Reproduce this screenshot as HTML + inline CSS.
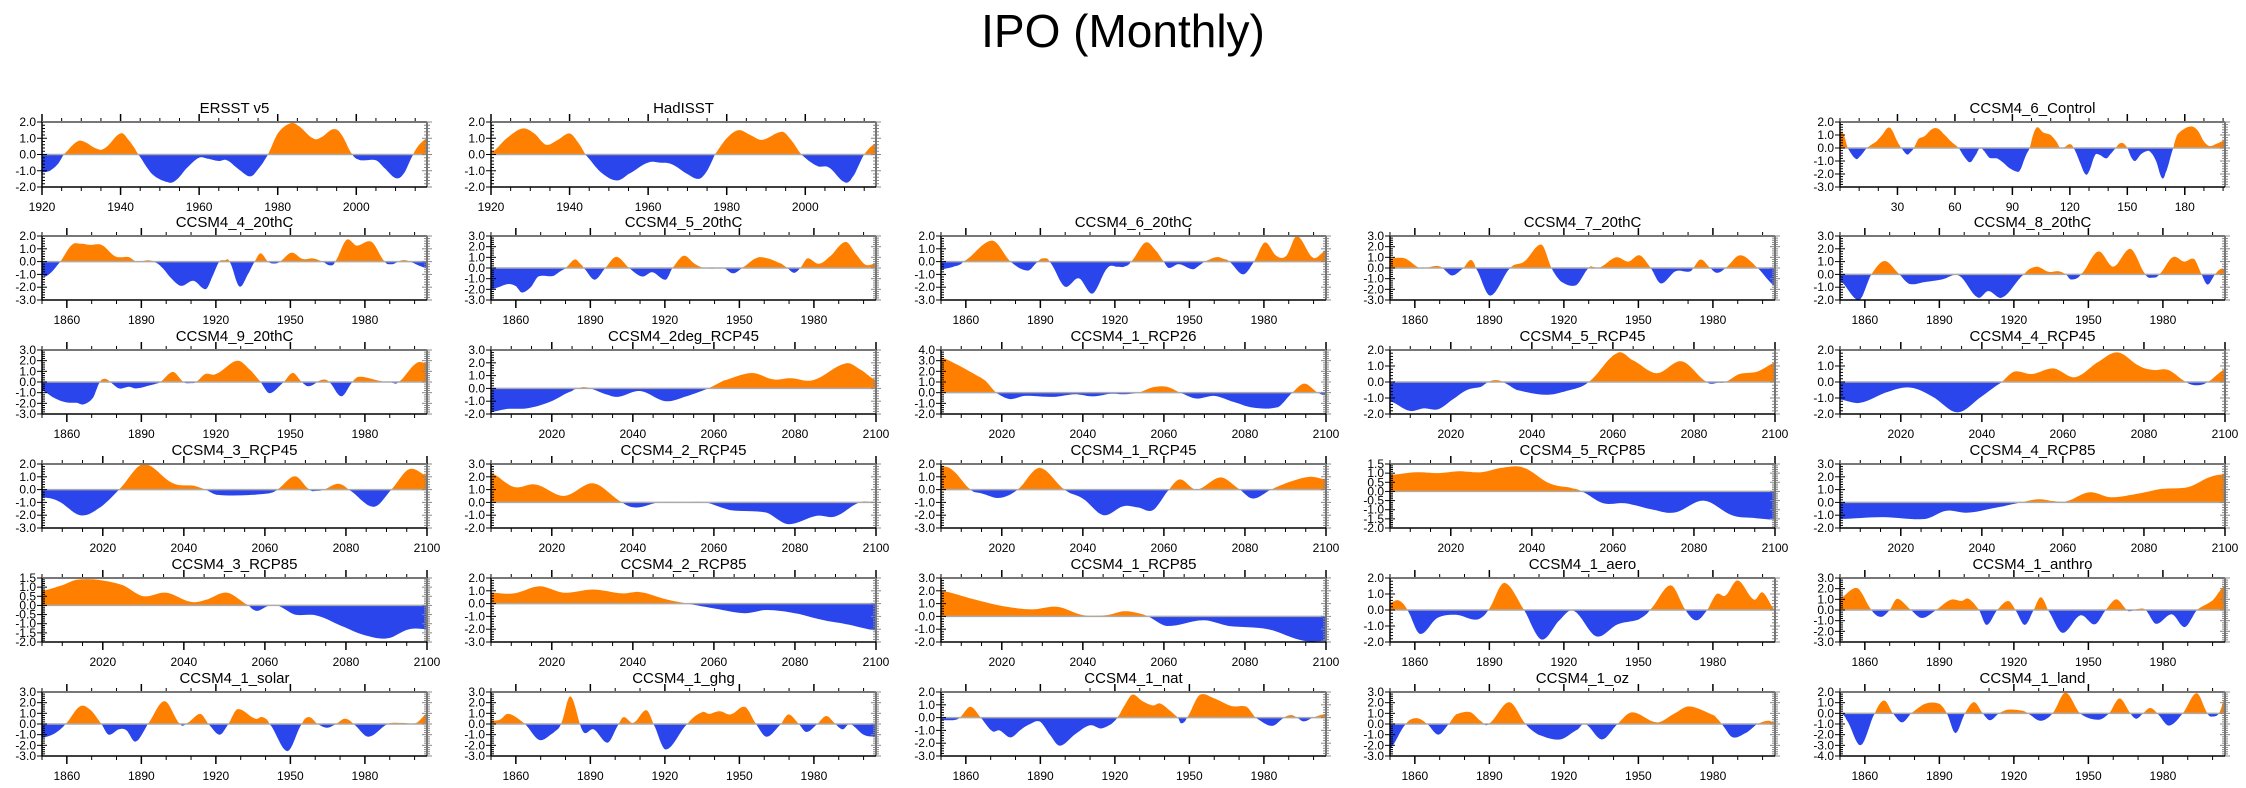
<!DOCTYPE html>
<html><head><meta charset="utf-8"><title>IPO (Monthly)</title>
<style>
html,body{margin:0;padding:0;background:#fff;}
svg{display:block;font-family:"Liberation Sans",Arial,sans-serif;}
</style></head>
<body>
<svg id="chart" width="2246" height="788" viewBox="0 0 2246 788" xmlns="http://www.w3.org/2000/svg">
<text x="1123" y="47" text-anchor="middle" font-size="46" fill="#000">IPO (Monthly)</text>
</svg>
<script>
// ---- data (year/index, IPO value) ----
const d_ersst=[[1920,-1.1],[1922,-1.0],[1924,-0.6],[1925.5,0],[1929,0.8],[1931,0.75],[1934,0.35],[1936,0.4],[1940,1.3],[1942,0.9],[1944.5,0],[1948,-1.2],[1952,-1.7],[1954,-1.6],[1957,-0.8],[1960,-0.2],[1962,-0.25],[1965,-0.4],[1967,-0.35],[1970,-0.9],[1973,-1.35],[1975,-0.9],[1977.5,0],[1980,1.3],[1983,1.9],[1985,1.8],[1989,1.0],[1991,1.05],[1994,1.55],[1996,1.3],[1999,0],[2001,-0.35],[2005,-0.35],[2007,-0.8],[2010,-1.45],[2012,-1.2],[2014.5,0],[2016,0.6],[2018,1.0]];
const d_had=[[1920,0.1],[1924,1.0],[1928,1.6],[1931,1.3],[1934,0.6],[1937,0.9],[1940,1.3],[1942,0.8],[1944,0],[1948,-1.1],[1952,-1.6],[1955,-1.2],[1960,-0.5],[1963,-0.5],[1966,-0.6],[1970,-1.2],[1973,-1.5],[1975,-1.0],[1977,0],[1980,1.0],[1983,1.5],[1986,1.2],[1989,0.9],[1994,1.4],[1996,1.0],[1999,0],[2003,-0.7],[2006,-0.8],[2010,-1.7],[2012,-1.4],[2015,0],[2018,0.7]];
const d_ctrl=[[0,1.25],[2,1.0],[4,0],[8,-0.8],[10,-0.7],[14,0],[19,0.5],[22,1.0],[25,1.55],[27,1.4],[30,0.5],[32,0],[35,-0.5],[37,-0.3],[38.5,0],[41,0.7],[44,0.9],[48,1.45],[51,1.5],[54,1.1],[58,0.5],[62,0],[65,-0.7],[68,-1.1],[71,-0.5],[73,0],[75,-0.2],[78,-0.75],[82,-0.8],[85,-1.1],[88,-1.5],[92,-1.8],[94,-1.7],[97,-0.6],[99,0],[101,1.1],[103,1.6],[106,1.2],[110,1.0],[113,0.5],[115,0],[117,0.05],[120,0.3],[122,0],[125,-1.0],[128,-2.0],[130,-1.8],[133,-0.6],[135,-0.5],[139,-0.8],[141,-0.5],[144,0],[146,0.35],[148,0.35],[150,0],[152,-0.7],[154,-1.0],[157,-0.5],[160,-0.25],[162,-0.3],[165,-1.0],[168,-2.3],[170,-1.9],[174,0],[176,1.0],[180,1.5],[184,1.65],[187,1.3],[190,0.5],[193,0.15],[197,0.35],[201,0.6]];
const d_c4_20=[[1850,-1.05],[1852,-1.1],[1857.4,0],[1862,1.3],[1865.5,1.4],[1869.5,1.3],[1874,1.3],[1879.6,0.4],[1885,0.35],[1888,0],[1892.5,0.1],[1895,0],[1898,-0.4],[1902,-1.3],[1906,-1.9],[1911,-1.5],[1916,-2.15],[1919,-1.0],[1921.4,0],[1923.5,0.1],[1925.5,0],[1929.5,-1.95],[1933.5,-0.8],[1935.6,0],[1938,0.65],[1941,0],[1943.4,-0.15],[1945.7,0],[1950.4,0.7],[1955,0.2],[1959,0.25],[1963,0],[1966,-0.3],[1968,0],[1972.6,1.7],[1976.7,1.25],[1982.7,1.55],[1988,0],[1991,-0.2],[1993.5,0],[1995.5,0.12],[1998,0],[2003,-0.4],[2005,-0.5]];
const d_c5_20=[[1850,-2.0],[1853,-1.8],[1857,-1.5],[1860,-1.7],[1862.4,-2.3],[1866,-1.8],[1869,-0.8],[1875,-0.75],[1878,-0.3],[1880,0],[1883.7,0.8],[1886,0.4],[1887.3,0],[1891.7,-1.1],[1896,0],[1900.5,1.05],[1905.6,0],[1910.8,-0.8],[1915,-0.4],[1920.3,-1.1],[1923,0],[1927.6,1.15],[1932,0.4],[1935.6,0],[1940.8,-0.05],[1943.7,0],[1947.4,-0.5],[1951,0],[1957,0.95],[1961.3,0.9],[1967,0.4],[1969.3,0],[1972,-0.45],[1974.5,0],[1977.4,0.9],[1981.8,0.4],[1986,1.0],[1992.7,2.45],[1997,1.3],[2000.8,0.3],[2005,0.45]];
const d_c6_20=[[1850,-0.6],[1855,-0.4],[1859,0],[1870.6,1.65],[1878,0],[1885,-0.7],[1889,0],[1891,0.25],[1893.7,0],[1899.8,-1.95],[1905.5,-1.3],[1911,-2.5],[1917,-0.5],[1921,-0.4],[1923.7,-0.4],[1926.5,0],[1932.4,1.5],[1936.8,0.8],[1939.7,0],[1941.7,-0.5],[1945.7,-0.2],[1951.4,-0.6],[1954,-0.3],[1956,0],[1961,0.35],[1964,0.2],[1966,0],[1971.6,-1.0],[1976,0],[1980.4,1.5],[1985,0.45],[1989,0.45],[1993.3,2.0],[1999.8,0.3],[2005,0.9]];
const d_c7_20=[[1850,0.9],[1856,0.9],[1862,0],[1865,0.05],[1869,0.2],[1871,0],[1875,-0.7],[1879.6,0],[1882.5,0.75],[1884.5,0],[1890.3,-2.6],[1898.4,0],[1904,0.6],[1911,2.2],[1915,0],[1919,-1.3],[1925,-1.6],[1930,0],[1932,0.1],[1934,0],[1941,1.0],[1946,0.6],[1950.5,1.2],[1955,0],[1959,-1.45],[1965,-0.3],[1971,-0.3],[1975,0.8],[1979,0],[1981.6,-0.45],[1985,0],[1991,1.2],[1998,0],[2005,-1.7]];
const d_c8_20=[[1850,-0.5],[1857.7,-2.0],[1862.6,0],[1868,1.05],[1874,0],[1878,-0.75],[1884,-0.6],[1891,-0.4],[1898,-0.1],[1905.4,-1.8],[1909.7,-1.3],[1915.4,-1.8],[1924,0],[1929,0.6],[1934,0.2],[1938,0.25],[1941,0],[1943,-0.4],[1947,0],[1954,1.8],[1960,0.6],[1967,2.0],[1973,0],[1976,-0.25],[1978.5,0],[1984,1.35],[1988.6,1.0],[1992.6,1.2],[1995.6,0],[1998,-0.8],[2001,0],[2003.5,0.45],[2005,0.35]];
const d_c9_20=[[1850,-0.8],[1855,-1.5],[1859.5,-1.9],[1864,-1.95],[1866.7,-2.1],[1870.5,-1.5],[1873.3,0],[1875.4,0.3],[1877.4,0],[1881,-0.6],[1885,-0.45],[1888,-0.6],[1895.5,-0.2],[1897.5,0],[1902.7,0.95],[1907,0],[1910,-0.1],[1912,0],[1915.7,0.75],[1920,0.75],[1928.7,2.0],[1934.4,1.0],[1938,0],[1941.6,-1.05],[1947.4,0],[1951,0.85],[1954.6,0],[1957.5,-0.4],[1962.7,0.2],[1965.6,0],[1970.5,-1.35],[1975,0],[1977.7,0.5],[1986.3,0.1],[1990.6,-0.05],[1993.5,0],[2000.7,1.75],[2005,1.75]];
const d_2deg45=[[2005,-1.85],[2009,-1.6],[2014,-1.55],[2019.6,-1.05],[2025,-0.2],[2026.7,0],[2027.6,0.1],[2029.4,0],[2033.8,-0.5],[2036.5,-0.65],[2041.8,-0.2],[2048,-1.0],[2053.4,-0.6],[2058.7,0],[2062.3,0.6],[2069.4,1.2],[2074.7,0.7],[2079,0.8],[2084.5,0.65],[2092.5,1.95],[2096,1.5],[2100,0.65]];
const d_c1_26=[[2005,3.3],[2009.7,2.5],[2013,1.8],[2016,1.1],[2018.6,0],[2022,-0.6],[2025.6,-0.3],[2032.8,-0.4],[2038,-0.15],[2042.5,-0.35],[2047,-0.1],[2050,-0.15],[2053.7,0],[2057.3,0.5],[2060.7,0.55],[2064,0],[2068,-0.55],[2072.4,-0.3],[2076.6,-0.8],[2082,-1.4],[2088.2,-1.35],[2091.7,0],[2094.7,0.85],[2098,0],[2100,-0.25]];
const d_c5_45=[[2005,-1.2],[2009.8,-1.8],[2013.3,-1.65],[2016.9,-1.7],[2020.4,-1.1],[2024,-0.5],[2027.5,-0.3],[2029.2,0],[2031,0.12],[2032.8,0],[2036.3,-0.5],[2043.4,-0.8],[2048.7,-0.55],[2054,0],[2061,1.8],[2064.6,1.4],[2070.8,0.55],[2077,1.3],[2083.2,0],[2086,-0.05],[2087.7,0],[2091.2,0.5],[2095.6,0.65],[2100,1.2]];
const d_c4_45=[[2005,-1.1],[2010,-1.3],[2017,-0.6],[2022.4,-0.35],[2027.7,-0.9],[2034,-1.9],[2040,-0.9],[2045,0],[2048,0.65],[2052.4,0.5],[2057.7,0.85],[2063,0.3],[2069,1.3],[2073.6,1.85],[2078.9,1.0],[2082.4,0.75],[2086,0.75],[2090.4,0],[2093,-0.2],[2095.7,0],[2100,0.8]];
const d_c3_45=[[2005,-0.6],[2009,-0.9],[2014.4,-2.0],[2018.8,-1.5],[2024,0],[2030,2.0],[2037.3,0.5],[2042.6,0.3],[2045.3,0],[2048,-0.4],[2054,-0.45],[2061,-0.3],[2063,0],[2067.4,1.05],[2071,0],[2072.7,-0.1],[2074.5,0],[2078,0.45],[2080.6,0],[2086.8,-1.35],[2091.2,0],[2095.6,1.6],[2100,1.1]];
const d_c2_45=[[2005,2.3],[2010.7,1.2],[2016,1.4],[2023,0.5],[2030.3,1.5],[2037.4,0],[2041,-0.4],[2046.3,0],[2053.4,0.02],[2057.8,0],[2064,-0.6],[2073,-0.8],[2078.3,-1.7],[2085.4,-1.05],[2089.9,-1.1],[2096,0],[2100,0]];
const d_c1_45=[[2005,1.85],[2007.9,1.5],[2012.3,0],[2015,-0.3],[2019.4,-0.65],[2023.9,0],[2029.3,1.7],[2035.5,0],[2040,-0.7],[2045.1,-2.0],[2050,-1.3],[2053.7,-1.4],[2057.3,-1.6],[2061.3,0],[2064,0.8],[2068,0],[2074,0.95],[2078.8,0],[2082,-0.7],[2086.4,0],[2091,0.6],[2096,1.0],[2100,0.8]];
const d_c5_85=[[2005,0.9],[2011.5,1.05],[2016.9,1.0],[2022,1.1],[2027.5,1.05],[2032.8,1.3],[2038,1.3],[2044.3,0.45],[2049.6,0.2],[2052.3,0],[2057.6,-0.65],[2063,-0.65],[2070,-1.0],[2075.3,-1.15],[2082.4,-0.5],[2089.4,-1.3],[2094.7,-1.45],[2100,-1.55]];
const d_c4_85=[[2005,-1.3],[2015.4,-1.15],[2026,-1.3],[2031.3,-0.65],[2036.6,-0.8],[2045.4,-0.3],[2049.8,0],[2054,0.25],[2057.7,0.1],[2061,0.1],[2066.5,0.8],[2071.8,0.4],[2078.9,0.7],[2084.2,1.05],[2091,1.2],[2096.5,2.0],[2100,2.2]];
const d_c3_85=[[2005,0.8],[2010,1.1],[2013.5,1.4],[2018.8,1.4],[2025,1.1],[2030,0.5],[2035.6,0.7],[2041.7,0.2],[2045.3,0.3],[2050.6,0.7],[2056,0],[2058,-0.3],[2060.6,-0.05],[2063,0],[2067.4,-0.5],[2072.7,-0.55],[2079.8,-1.2],[2085,-1.65],[2090.3,-1.8],[2095.6,-1.3],[2100,-1.3]];
const d_c2_85=[[2005,0.85],[2010.7,0.8],[2017,1.35],[2023,0.85],[2030.3,1.1],[2037.4,0.8],[2041.8,0.9],[2048,0.35],[2053.4,0],[2060.5,-0.4],[2067.6,-0.75],[2073,-0.5],[2080,-0.75],[2087.2,-1.3],[2092.5,-1.6],[2100,-2.1]];
const d_c1_85=[[2005,2.0],[2013,1.35],[2020.4,0.8],[2027.5,0.55],[2033.7,0.75],[2040,0.1],[2046,0.1],[2050,0.4],[2053,0.3],[2056,0],[2060.7,-0.75],[2069.7,-0.3],[2076,-0.75],[2085.7,-1.0],[2094.5,-1.9],[2100,-1.9]];
const d_aero=[[1850,0.45],[1853.5,0.6],[1857,0],[1862,-1.5],[1869,-0.5],[1876.6,-0.3],[1885,-0.6],[1889.6,0],[1896,1.7],[1904,0],[1911,-1.85],[1918.5,-0.6],[1924,-0.05],[1933,-1.65],[1941.6,-0.9],[1950,-0.6],[1954.6,0],[1963,1.55],[1969,0],[1973.4,-0.65],[1977.7,0],[1981.5,1.0],[1985,0.9],[1990,1.85],[1996.5,0.65],[2000,1.1],[2005,0]];
const d_anthro=[[1850,1.1],[1857,2.05],[1862.7,0],[1866.5,-0.65],[1870,0],[1873,1.05],[1878.6,0],[1883,-0.75],[1888.7,0],[1894.5,0.95],[1899,0.85],[1901.7,1.05],[1906,0],[1909,-1.4],[1913.3,0],[1917.7,0.85],[1920.6,0],[1924.4,-1.4],[1928,0],[1930.8,1.2],[1933.7,0],[1939.5,-2.15],[1946.8,-0.5],[1952.6,-1.35],[1957,0],[1961.3,1.0],[1965.6,0],[1967,-0.1],[1970,0.1],[1973,0],[1977.2,-1.3],[1983.6,-0.4],[1988.8,-1.6],[1993.7,0],[2000,0.9],[2005,2.3]];
const d_solar=[[1850,-1.3],[1855,-0.9],[1859.5,0],[1865.3,1.65],[1869.6,1.3],[1874,0],[1876.8,-1.0],[1881,-0.5],[1884,-0.6],[1887.7,-1.65],[1892.6,0],[1899.3,2.15],[1905.6,0],[1908.5,0.1],[1913.7,0.95],[1917,0],[1921.5,-1.0],[1925,0],[1928.7,1.4],[1935.9,0.5],[1938.7,0.65],[1941.6,0],[1948.8,-2.55],[1954.6,0],[1957.5,0.65],[1961,0],[1964.7,-0.35],[1968.4,0],[1972,0.5],[1975.4,0],[1981.4,-1.2],[1989.2,0],[1995,0.1],[2000.7,0.1],[2005,1.0]];
const d_ghg=[[1850,0.3],[1853.5,0.4],[1857,0.95],[1863.7,0],[1869.5,-1.5],[1875.3,-0.8],[1878.2,0],[1882,2.6],[1887,-0.7],[1891.3,-0.5],[1897,-1.75],[1901.5,0],[1903.5,0.65],[1907.3,0.1],[1912.5,1.3],[1915.4,0],[1920.3,-2.4],[1929,0],[1935,1.1],[1937.8,0.95],[1942,1.2],[1946.5,0.9],[1952.3,1.6],[1956.7,0],[1961,-1.2],[1966.8,0],[1969.8,0.9],[1974,0],[1977,-0.75],[1981.4,0],[1985,0.75],[1988.7,0],[1991.6,-0.5],[1994.5,0],[2000,-1.0],[2005,-1.2]];
const d_nat=[[1850,-0.2],[1855,-0.2],[1857.5,0],[1861.8,0.85],[1866,0],[1870.6,-1.05],[1873.5,-1.0],[1878,-1.55],[1882.5,-0.9],[1885.3,-0.55],[1889.7,-0.3],[1893.7,-1.3],[1897.8,-2.2],[1904,-1.3],[1910,-0.6],[1914.4,-0.85],[1918.6,-0.5],[1921,0],[1923.7,0.9],[1927,1.8],[1931,1.3],[1935.3,0.95],[1938.2,1.1],[1942.5,0.5],[1945.4,0],[1946.7,-0.45],[1949,0],[1954,1.75],[1960,1.5],[1967,0.9],[1973,0.85],[1976.6,0],[1983.3,-0.65],[1988.2,0],[1991,0.2],[1993.3,0],[1996,-0.3],[1999.7,0],[2005,0.3]];
const d_oz=[[1850,-2.3],[1856.4,0],[1860.7,0.55],[1865,0],[1869.4,-1.0],[1873.7,0],[1876.6,0.9],[1882.4,1.1],[1886.7,0.25],[1889.6,0],[1898,2.05],[1904.6,0],[1909.8,-1.0],[1918.5,-1.45],[1925.7,-0.5],[1928.6,0],[1935.3,-1.45],[1941.6,0],[1947.4,1.1],[1957.5,0.15],[1964.7,1.0],[1970.5,1.65],[1980.6,0.8],[1983.5,0],[1987.9,-1.25],[1993.6,-0.8],[1998,0],[2002.3,0.3],[2005,0.1]];
const d_land=[[1850,0],[1852.6,-0.6],[1858.3,-3.0],[1864,0],[1867.8,1.2],[1871.3,0],[1875,-0.85],[1878.6,0],[1884.3,0.9],[1890,0.9],[1893,0],[1896.5,-1.85],[1900.3,0],[1904,1.05],[1907.5,0],[1910.4,-0.65],[1914,0],[1917.7,0.35],[1923.5,0.25],[1925.5,0],[1930.7,-0.7],[1935.6,0],[1940.8,1.95],[1946.6,0],[1954,-0.6],[1958.3,0],[1962.6,1.4],[1967,0],[1969.3,-0.5],[1972,0],[1974.8,0.5],[1977.7,0],[1982.4,-1.15],[1988,0],[1993.6,1.9],[1998,0],[2000,-0.3],[2002.6,0],[2005,1.45]];

const panelTitles=["ERSST v5","HadISST","CCSM4_6_Control","CCSM4_4_20thC","CCSM4_5_20thC","CCSM4_6_20thC","CCSM4_7_20thC","CCSM4_8_20thC","CCSM4_9_20thC","CCSM4_2deg_RCP45","CCSM4_1_RCP26","CCSM4_5_RCP45","CCSM4_4_RCP45","CCSM4_3_RCP45","CCSM4_2_RCP45","CCSM4_1_RCP45","CCSM4_5_RCP85","CCSM4_4_RCP85","CCSM4_3_RCP85","CCSM4_2_RCP85","CCSM4_1_RCP85","CCSM4_1_aero","CCSM4_1_anthro","CCSM4_1_solar","CCSM4_1_ghg","CCSM4_1_nat","CCSM4_1_oz","CCSM4_1_land"];
const panelData=[d_ersst,d_had,d_ctrl,d_c4_20,d_c5_20,d_c6_20,d_c7_20,d_c8_20,d_c9_20,d_2deg45,d_c1_26,d_c5_45,d_c4_45,d_c3_45,d_c2_45,d_c1_45,d_c5_85,d_c4_85,d_c3_85,d_c2_85,d_c1_85,d_aero,d_anthro,d_solar,d_ghg,d_nat,d_oz,d_land];
const panelAxis=["obs","obs","ctrl","hist","hist","hist","hist","hist","hist","rcp","rcp","rcp","rcp","rcp","rcp","rcp","rcp","rcp","rcp","rcp","rcp","hist","hist","hist","hist","hist","hist","hist"];
const yMin=[-2,-2,-3,-3,-3,-3,-3,-2,-3,-2,-2,-2,-2,-3,-2,-3,-2,-2,-2,-3,-2,-2,-3,-3,-3,-3,-3,-4];
const yMax=[2,2,2,2,3,2,3,3,3,3,4,2,2,2,3,2,1.5,3,1.5,2,3,2,3,3,3,2,3,2];
const axisRange={obs:[1920,2018],ctrl:[0,201],hist:[1850,2005],rcp:[2005,2100]};
const axisMajor={obs:[1920,1940,1960,1980,2000],ctrl:[30,60,90,120,150,180],hist:[1860,1890,1920,1950,1980],rcp:[2020,2040,2060,2080,2100]};
const axisMinorStep={obs:5,ctrl:10,hist:10,rcp:5};

const NS="http://www.w3.org/2000/svg";
const svg=document.getElementById('chart');
function mk(tag,attrs,parent){const e=document.createElementNS(NS,tag);for(const k in attrs)e.setAttribute(k,attrs[k]);(parent||svg).appendChild(e);return e;}

const colLeft=[42,491,941,1390,1840], PW=385;
function slot(i){
  if(i===0) return [colLeft[0],122,65];
  if(i===1) return [colLeft[1],122,65];
  if(i===2) return [colLeft[4],122,65];
  const k=i-3, r=1+Math.floor(k/5), c=k%5;
  return [colLeft[c],236+(r-1)*114,64];
}
function smooth(pts){
  const out=[];
  for(let i=0;i<pts.length-1;i++){
    const p0=pts[Math.max(0,i-1)],p1=pts[i],p2=pts[i+1],p3=pts[Math.min(pts.length-1,i+2)];
    const n=8;
    for(let s=0;s<n;s++){
      const t=s/n,t2=t*t,t3=t2*t;
      const f=(a,b,c,d)=>0.5*((2*b)+(-a+c)*t+(2*a-5*b+4*c-d)*t2+(-a+3*b-3*c+d)*t3);
      out.push([p1[0]+(p2[0]-p1[0])*t,f(p0[1],p1[1],p2[1],p3[1])]);
    }
  }
  out.push(pts[pts.length-1]);return out;
}

panelData.forEach((data,i)=>{
  const [L,T,H]=slot(i);
  const kind=panelAxis[i];
  const [x0,x1]=axisRange[kind];
  const ymn=yMin[i],ymx=yMax[i];
  const sx=v=>L+(v-x0)/(x1-x0)*PW;
  const sy=v=>T+(ymx-v)/(ymx-ymn)*H;
  const g=mk('g',{});
  
  
  const cidA='ca'+i,cidB='cb'+i;
  const defs=mk('defs',{},g);
  const cpA=mk('clipPath',{id:cidA},defs);mk('rect',{x:L,y:T,width:PW,height:sy(0)-T},cpA);
  const cpB=mk('clipPath',{id:cidB},defs);mk('rect',{x:L,y:sy(0),width:PW,height:T+H-sy(0)},cpB);
  const sm=smooth(data);
  let d='M'+sx(sm[0][0]).toFixed(1)+','+sy(0).toFixed(1);
  sm.forEach(p=>{d+='L'+sx(p[0]).toFixed(1)+','+sy(Math.max(ymn,Math.min(ymx,p[1]))).toFixed(1);});
  d+='L'+sx(sm[sm.length-1][0]).toFixed(1)+','+sy(0).toFixed(1)+'Z';
  const pos=mk('path',{d:d,fill:'#ff8000','clip-path':'url(#'+cidA+')'},g);
  
  
  const neg=mk('path',{d:d,fill:'#2a45eb','clip-path':'url(#'+cidB+')'},g);
  
  
  const zl=mk('line',{x1:L,x2:L+PW,y1:sy(0),y2:sy(0),stroke:'#aaa','stroke-width':1.5},g);
  
  
  const step=(ymx-ymn)<=3.5?0.5:1, minor=step/5;
  const nMinor=Math.round((ymx-ymn)/minor);
  for(let k=0;k<=nMinor;k++){
    let v=Math.round((ymn+k*minor)*100)/100;
    const y=sy(v);const isMaj=(k%5)===0;
    mk('line',{x1:L,x2:L+(isMaj?5:3),y1:y,y2:y,stroke:'#000','stroke-width':1},g);
    mk('line',{x1:L-(isMaj?5:0),x2:L,y1:y,y2:y,stroke:'#000','stroke-width':1},g);
    mk('line',{x1:L+PW-(isMaj?5:3),x2:L+PW+(isMaj?5:3),y1:y,y2:y,stroke:'#888','stroke-width':1},g);
    if(isMaj){
      if(Math.abs(v)<1e-9)v=0;
      const t=mk('text',{x:L-6,y:y+4,'text-anchor':'end','font-size':12,fill:'#000'},g);t.textContent=v.toFixed(1);
      
      }
  }
  const ms=axisMinorStep[kind];
  for(let v=Math.ceil(x0/ms)*ms;v<=x1;v+=ms){
    const x=sx(v);const isMaj=axisMajor[kind].includes(v);
    mk('line',{x1:x,x2:x,y1:T,y2:T-(isMaj?8:4),stroke:'#000','stroke-width':isMaj?1.5:1},g);
    mk('line',{x1:x,x2:x,y1:T+H,y2:T+H+(isMaj?8:4),stroke:'#000','stroke-width':isMaj?1.5:1},g);
  }
  axisMajor[kind].forEach(v=>{const t=mk('text',{x:sx(v),y:T+H+24,'text-anchor':'middle','font-size':12,fill:'#000'},g);t.textContent=v;
    
    });
  mk('line',{x1:L,x2:L+PW,y1:T,y2:T,stroke:'#777','stroke-width':2},g);
  mk('line',{x1:L+PW,x2:L+PW,y1:T,y2:T+H,stroke:'#777','stroke-width':2},g);
  mk('line',{x1:L,x2:L,y1:T,y2:T+H,stroke:'#000','stroke-width':1.5},g);
  mk('line',{x1:L,x2:L+PW,y1:T+H,y2:T+H,stroke:'#000','stroke-width':1.5},g);
  const tt=mk('text',{x:L+PW/2,y:T-9,'text-anchor':'middle','font-size':15,fill:'#000'},g);
  tt.textContent=panelTitles[i];
  
  
});
</script>
</body></html>
